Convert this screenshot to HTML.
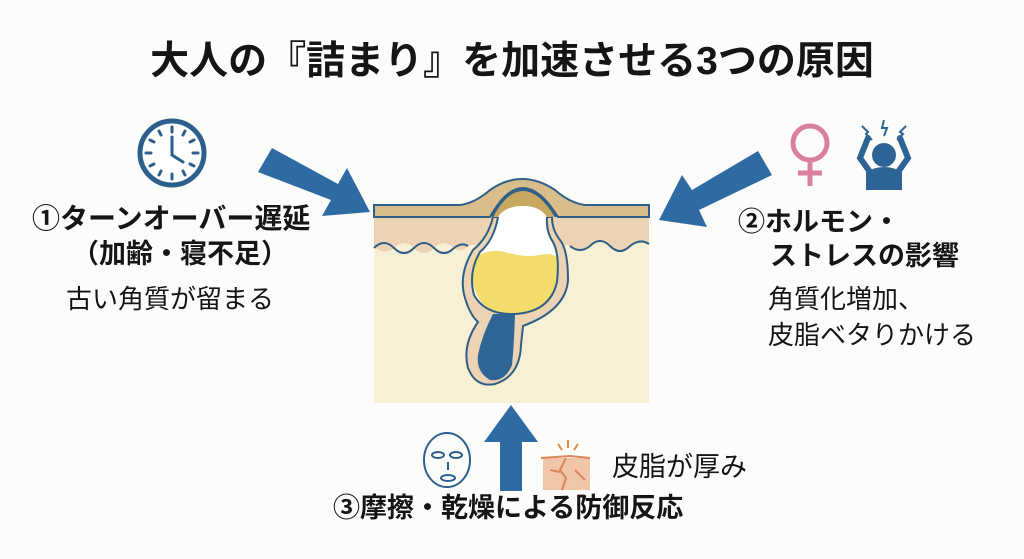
<!DOCTYPE html>
<html><head><meta charset="utf-8"><style>
body{margin:0;width:1024px;height:559px;background:#fcfcfb;overflow:hidden;position:relative;font-family:"Liberation Sans","Noto Sans CJK JP",sans-serif;color:#151515}
.t{position:absolute;white-space:nowrap;font-weight:bold;line-height:1}
.n{position:absolute;white-space:nowrap;line-height:1}
</style></head><body>
<svg width="1024" height="559" style="position:absolute;left:0;top:0">
<rect x="374" y="205" width="275" height="198" fill="#f8f0d4"/>
<path d="M374 205 L460 205 Q475 203 490 190 Q522 168 555 190 Q570 203 585 205 L649 205 L649 218 L649 245 Q640 238 630 246 Q620 256 610 246 Q600 236 590 246 Q580 254 568 245 L470 245 Q460 254 454 248 Q444 238 434 248 Q424 258 414 248 Q404 238 394 248 Q384 256 374 246 Z" fill="#ecd3b4"/>
<path d="M374 205 L460 205 Q475 203 490 190 Q522 168 555 190 Q570 203 585 205 L649 205 L649 217 L558 217 Q540 188 523 188 Q506 188 490 217 L374 217 Z" fill="#d9be8c" stroke="#2f5f86" stroke-width="2"/>
<path d="M374 248 Q384 238 394 248 Q404 258 414 248 Q424 238 434 248 Q444 258 454 248 Q462 242 468 246 M570 246 Q580 254 590 246 Q600 236 610 246 Q620 256 630 246 Q640 238 649 244" fill="none" stroke="#2f5f86" stroke-width="2"/>
<path d="M493 217 Q488 238 473 250 Q458 275 465 298 Q470 315 478 322 Q462 345 468 368 Q476 388 495 384 Q520 376 521 345 L523 326 Q566 310 568 280 Q568 250 560 240 Q552 230 552 217 Z" fill="#ecd3b4" stroke="#2f5f86" stroke-width="2"/>
<!-- dark dome -->
<path d="M492 217 Q506 190 523 190 Q540 190 556 217 Z" fill="#c8a860"/>
<path d="M498 217 Q494 240 480 252 Q468 272 474 295 Q485 315 515 314 Q550 312 557 282 Q560 255 553 242 Q546 232 547 217 Q540 206 523 206 Q505 206 498 217 Z" fill="#fff"/>
<path d="M473 258 Q490 248 505 252 Q525 258 540 255 Q552 252 558 258 Q560 300 535 312 Q510 318 490 310 Q468 295 473 258 Z" fill="#f3dc6c"/>
<path d="M498 217 Q494 240 480 252 Q468 272 474 295 Q485 315 515 314 Q550 312 557 282 Q560 255 553 242 Q546 232 547 217" fill="none" stroke="#2f5f86" stroke-width="2"/>
<path d="M492 217 Q506 190 523 190 Q540 190 556 217" fill="none" stroke="#2f5f86" stroke-width="2"/>
<path d="M493 314 L515 314 Q514 345 512 365 Q505 382 490 380 Q476 372 478 355 Q482 335 493 314 Z" fill="#2e6595"/>
<g fill="#2e6ba3">
<polygon points="258,172 272,148 338,184 347,168 370,212 322,216 331,200"/>
<polygon points="772,175 758,151 692,190 682,175 659,220 707,227 699,210"/>
<polygon points="500,491 522,491 522,442 538,442 511,405 484,442 500,442"/>
</g>
<circle cx="172" cy="153" r="32" fill="#fff" stroke="#2d5f8e" stroke-width="5"/>
<g stroke="#2d5f8e" stroke-width="3" stroke-linecap="round">
<line x1="172" y1="127" x2="172" y2="132"/><line x1="172" y1="174" x2="172" y2="179"/>
<line x1="146" y1="153" x2="151" y2="153"/><line x1="193" y1="153" x2="198" y2="153"/>
<line x1="185" y1="131" x2="183" y2="135"/><line x1="194" y1="140" x2="190" y2="142"/>
<line x1="194" y1="166" x2="190" y2="164"/><line x1="185" y1="175" x2="183" y2="171"/>
<line x1="159" y1="131" x2="161" y2="135"/><line x1="150" y1="140" x2="154" y2="142"/>
<line x1="150" y1="166" x2="154" y2="164"/><line x1="159" y1="175" x2="161" y2="171"/>
<polyline points="172,137 172,155 183,162" fill="none"/>
</g>
<circle cx="810" cy="143" r="17" fill="none" stroke="#d9809f" stroke-width="5"/>
<g stroke="#d9809f" stroke-width="5"><line x1="810" y1="160" x2="810" y2="186"/><line x1="798" y1="173" x2="822" y2="173"/></g>
<g fill="#2d6496">
<circle cx="884" cy="155" r="12"/>
<path d="M866 190 L866 172 Q884 162 902 172 L902 190 Z"/>
</g>
<path d="M870 172 L860 158 L868 138 M898 172 L908 158 L900 138" fill="none" stroke="#2d6496" stroke-width="6" stroke-linecap="round"/>
<g fill="none" stroke="#2d6496" stroke-width="2">
<polyline points="862,126 868,132 866,134 872,140"/><polyline points="884,120 882,128 887,128 884,136"/><polyline points="906,126 900,132 903,134 897,140"/>
</g>
<ellipse cx="447" cy="460" rx="23" ry="27" fill="none" stroke="#2d5f8e" stroke-width="2"/>
<g fill="none" stroke="#2d5f8e" stroke-width="2"><ellipse cx="438" cy="455" rx="6" ry="3"/><ellipse cx="456" cy="455" rx="6" ry="3"/><ellipse cx="448" cy="478" rx="7" ry="3"/><line x1="448" y1="462" x2="448" y2="470"/></g>
<rect x="543" y="458" width="47" height="32" fill="#f1c6a8"/>
<path d="M541 458 L570 456 L590 458 M566 458 L560 470 L566 478 L562 490 M550 470 L560 472 M575 470 L585 480" fill="none" stroke="#d8865a" stroke-width="2"/>
<g stroke="#e08a4a" stroke-width="2"><line x1="568" y1="440" x2="568" y2="448"/><line x1="558" y1="444" x2="562" y2="450"/><line x1="578" y1="444" x2="574" y2="450"/></g>
</svg>
<div class="t" style="left:0;width:1024px;text-align:center;top:42px;font-size:39px">大人の『詰まり』を加速させる3つの原因</div>
<div class="t" style="left:32px;top:205px;font-size:28px">①ターンオーバー遅延</div>
<div class="t" style="left:72px;top:241px;font-size:27px">（加齢・寝不足）</div>
<div class="n" style="left:66px;top:286px;font-size:26px">古い角質が留まる</div>
<div class="t" style="left:738px;top:209px;font-size:27px">②ホルモン・</div>
<div class="t" style="left:770px;top:243px;font-size:27px">ストレスの影響</div>
<div class="n" style="left:768px;top:286px;font-size:26px">角質化増加、</div>
<div class="n" style="left:768px;top:322px;font-size:26px">皮脂ベタりかける</div>
<div class="n" style="left:612px;top:454px;font-size:27px">皮脂が厚み</div>
<div class="t" style="left:333px;top:495px;font-size:27px">③摩擦・乾燥による防御反応</div>
</body></html>
